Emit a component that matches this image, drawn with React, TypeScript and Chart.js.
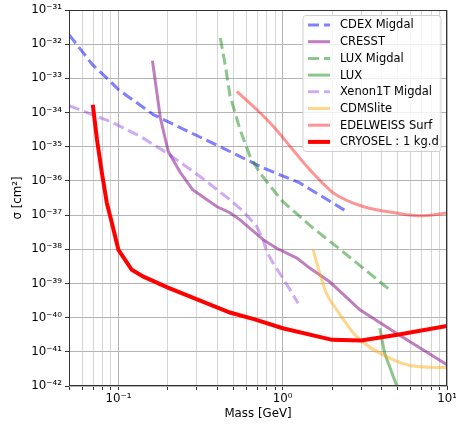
import React, { useEffect, useRef } from "react";
import { Chart, registerables } from "chart.js";
Chart.register(...registerables);

// Mass [GeV] and cross-section sigma [cm^2] for each curve
const cdexMass = [0.05, 0.0695, 0.087, 0.1, 0.163, 0.477, 0.76, 1.27, 2.44];
const cdexSigma = [1.91e-32, 2.51e-33, 9.12e-34, 4.68e-34, 8.71e-35, 7.24e-36, 2.4e-36, 8.71e-37, 1.29e-37];

const cresstMass = [0.161, 0.18, 0.201, 0.237, 0.283, 0.396, 0.477, 0.55, 0.76, 0.918, 1.22, 1.46, 1.94, 2.95, 4.92, 10];
const cresstSigma = [3.31e-33, 6.92e-35, 7.24e-36, 1.82e-36, 5.5e-37, 1.78e-37, 1.17e-37, 7.24e-38, 1.91e-38, 1.07e-38, 5.5e-39, 2.82e-39, 1.1e-39, 1.7e-40, 3.47e-41, 4.17e-42];

const luxMigdalMass = [0.417, 0.45, 0.477, 0.55, 0.632, 0.726, 0.875, 1.0, 1.27, 1.53, 2.23, 4.49];
const luxMigdalSigma = [1.51e-32, 2.0e-33, 3.16e-34, 3.16e-35, 5.25e-36, 1.7e-36, 5.5e-37, 2.51e-37, 9.12e-38, 4.17e-38, 1.0e-38, 6.46e-40];

const luxMass = [3.9, 4.17, 4.92, 5.1];
const luxSigma = [4.9e-41, 9.12e-42, 1.07e-42, 5.0e-43];

const xenonMass = [0.05, 0.089, 0.136, 0.2, 0.314, 0.477, 0.575, 0.694, 0.76, 0.797, 0.875, 1.0, 1.11, 1.24];
const xenonSigma = [1.58e-34, 5.5e-35, 2.0e-35, 6.31e-36, 1.35e-36, 2.82e-37, 1.29e-37, 4.68e-38, 1.91e-38, 8.71e-39, 3.89e-39, 1.45e-39, 6.46e-40, 2.63e-40];

const cdmsMass = [1.53, 1.68, 1.84, 2.13, 2.81, 4.28, 6.52, 10];
const cdmsSigma = [9.77e-39, 2.0e-39, 5.25e-40, 1.7e-40, 2.82e-41, 7.24e-42, 3.72e-42, 3.47e-42];

const edelMass = [0.525, 0.694, 0.875, 1.11, 1.46, 2.03, 3.08, 4.92, 6.82, 10];
const edelSigma = [4.17e-34, 1.23e-34, 3.98e-35, 1.02e-35, 2.14e-36, 4.47e-37, 1.78e-37, 1.15e-37, 9.55e-38, 1.15e-37];

const cryoselMass = [0.0698, 0.074, 0.0793, 0.085, 0.0912, 0.1, 0.1205, 0.142, 0.2, 0.477, 0.676, 1.0, 2.0, 3.0, 5.0, 10];
const cryoselSigma = [1.7e-34, 1.62e-35, 1.7e-36, 2.24e-37, 5.89e-38, 9.55e-39, 2.51e-39, 1.58e-39, 7.59e-40, 1.41e-40, 8.91e-41, 4.9e-41, 2.24e-41, 2.14e-41, 3.16e-41, 5.75e-41];

const xMin = 0.05;
const xMax = 10;
const yExpMin = -42;
const yExpMax = -31;

const FONT = '"DejaVu Sans"';
const GRID_MAJOR = "#b4b4b4";
const GRID_MINOR = "#d6d6d6";

const SUP: Record<string, string> = {
  "-": "\u207B", "0": "\u2070", "1": "\u00B9", "2": "\u00B2", "3": "\u00B3",
  "4": "\u2074", "5": "\u2075", "6": "\u2076", "7": "\u2077", "8": "\u2078", "9": "\u2079",
};

function isPow10(v: number) {
  const e = Math.log10(v);
  return Math.abs(e - Math.round(e)) < 1e-6;
}
function pow10Label(v: number) {
  if (!isPow10(v)) return "";
  const r = Math.round(Math.log10(v));
  return "10" + String(r).split("").map((c) => SUP[c]).join("");
}

const xTickValues: number[] = [];
for (let d = -2; d <= 1; d++) {
  for (let m = 1; m <= 9; m++) {
    const v = m * Math.pow(10, d);
    if (v >= xMin - 1e-12 && v <= xMax + 1e-9) xTickValues.push(v);
  }
}
const yTickValues: number[] = [];
for (let e = yExpMin; e <= yExpMax; e++) yTickValues.push(Number("1e" + e));

const series = [
  { label: "CDEX Migdal", x: cdexMass, y: cdexSigma, color: "rgba(0,0,255,0.5)", width: 3, dash: [11, 5] },
  { label: "CRESST", x: cresstMass, y: cresstSigma, color: "rgba(128,0,128,0.5)", width: 3, dash: [] },
  { label: "LUX Migdal", x: luxMigdalMass, y: luxMigdalSigma, color: "rgba(0,128,0,0.45)", width: 3, dash: [11, 5] },
  { label: "LUX", x: luxMass, y: luxSigma, color: "rgba(0,128,0,0.45)", width: 3, dash: [] },
  { label: "Xenon1T Migdal", x: xenonMass, y: xenonSigma, color: "rgba(138,43,226,0.4)", width: 3, dash: [11, 5] },
  { label: "CDMSlite", x: cdmsMass, y: cdmsSigma, color: "rgba(255,165,0,0.45)", width: 3, dash: [], smooth: true },
  { label: "EDELWEISS Surf", x: edelMass, y: edelSigma, color: "rgba(255,0,0,0.42)", width: 3, dash: [], smooth: true },
  { label: "CRYOSEL : 1 kg.d", x: cryoselMass, y: cryoselSigma, color: "rgb(255,0,0)", width: 4, dash: [] },
];

const framePlugin = {
  id: "frame",
  afterDatasetsDraw(chart: any) {
    const { ctx, chartArea: a } = chart;
    ctx.save();
    ctx.strokeStyle = "#333";
    ctx.lineWidth = 1;
    const l = Math.round(a.left) + 0.5;
    const t = Math.round(a.top) + 0.5;
    const r = Math.round(a.right) - 0.5;
    const b = Math.round(a.bottom) - 0.5;
    ctx.strokeRect(l, t, r - l, b - t);
    ctx.restore();
  },
};

const legendPlugin = {
  id: "boxLegend",
  afterDraw(chart: any) {
    const { ctx, chartArea: a } = chart;
    const ds = chart.data.datasets;
    const w = 138;
    const rowH = 16.7;
    const h = 136;
    const x0 = a.right - 6 - w;
    const y0 = a.top + 5.5;
    ctx.save();
    ctx.beginPath();
    const rr = 3;
    ctx.moveTo(x0 + rr, y0);
    ctx.lineTo(x0 + w - rr, y0);
    ctx.quadraticCurveTo(x0 + w, y0, x0 + w, y0 + rr);
    ctx.lineTo(x0 + w, y0 + h - rr);
    ctx.quadraticCurveTo(x0 + w, y0 + h, x0 + w - rr, y0 + h);
    ctx.lineTo(x0 + rr, y0 + h);
    ctx.quadraticCurveTo(x0, y0 + h, x0, y0 + h - rr);
    ctx.lineTo(x0, y0 + rr);
    ctx.quadraticCurveTo(x0, y0, x0 + rr, y0);
    ctx.closePath();
    ctx.fillStyle = "rgba(255,255,255,0.8)";
    ctx.fill();
    ctx.strokeStyle = "#d0d0d0";
    ctx.lineWidth = 1;
    ctx.stroke();
    ds.forEach((d: any, i: number) => {
      const cy = y0 + 9.5 + i * rowH;
      ctx.beginPath();
      ctx.setLineDash(d.borderDash || []);
      ctx.strokeStyle = d.borderColor;
      ctx.lineWidth = d.borderWidth;
      ctx.moveTo(x0 + 5, cy);
      ctx.lineTo(x0 + 27, cy);
      ctx.stroke();
      ctx.setLineDash([]);
      ctx.fillStyle = "#000";
      ctx.font = "11.5px " + FONT;
      ctx.textBaseline = "middle";
      ctx.textAlign = "left";
      ctx.fillText(d.label, x0 + 37, cy + 0.5);
    });
    ctx.restore();
  },
};

export default function App() {
  const ref = useRef<HTMLCanvasElement | null>(null);
  useEffect(() => {
    if (!ref.current) return;
    const n = series.length;
    const chart = new Chart(ref.current, {
      type: "line",
      data: {
        datasets: series.map((s, i) => ({
          label: s.label,
          data: s.x.map((x, j) => ({ x, y: s.y[j] })),
          borderColor: s.color,
          backgroundColor: s.color,
          borderWidth: s.width,
          borderDash: s.dash,
          pointRadius: 0,
          pointHoverRadius: 0,
          fill: false,
          tension: 0,
          cubicInterpolationMode: (s as any).smooth ? "monotone" : "default",
          clip: 0,
          order: n - 1 - i,
        })),
      },
      options: {
        animation: false,
        responsive: false,
        events: [],
        layout: { padding: { left: 11, right: 9, top: 10, bottom: 0 } },
        plugins: { legend: { display: false }, tooltip: { enabled: false } },
        scales: {
          x: {
            type: "logarithmic",
            min: xMin,
            max: xMax,
            afterBuildTicks: (scale: any) => {
              scale.ticks = xTickValues.map((v) => ({ value: v, major: isPow10(v) }));
            },
            afterFit: (scale: any) => {
              scale.height = 38;
              scale.paddingLeft = 0;
              scale.paddingRight = 0;
            },
            ticks: {
              autoSkip: false,
              maxRotation: 0,
              minRotation: 0,
              padding: 2,
              color: "#000",
              font: { family: FONT, size: 11.8 },
              callback: (v: any) => pow10Label(Number(v)),
            },
            grid: {
              color: (ctx: any) => (ctx.tick && ctx.tick.major ? GRID_MAJOR : GRID_MINOR),
              lineWidth: 1,
              tickLength: 4,
              tickColor: "#333",
            },
            border: { display: false },
            title: {
              display: true,
              text: "Mass [GeV]",
              color: "#000",
              font: { family: FONT, size: 11.8 },
              padding: { top: 0, bottom: 3 },
            },
          },
          y: {
            type: "logarithmic",
            min: yTickValues[0],
            max: yTickValues[yTickValues.length - 1],
            afterBuildTicks: (scale: any) => {
              scale.ticks = yTickValues.map((v) => ({ value: v, major: true }));
            },
            afterFit: (scale: any) => {
              scale.width = 58;
              scale.paddingTop = 0;
              scale.paddingBottom = 0;
            },
            ticks: {
              autoSkip: false,
              padding: 3,
              color: "#000",
              font: { family: FONT, size: 11.8 },
              callback: (v: any) => pow10Label(Number(v)),
            },
            grid: {
              color: GRID_MAJOR,
              lineWidth: 1,
              tickLength: 4,
              tickColor: "#333",
            },
            border: { display: false },
            title: {
              display: true,
              text: "\u03C3 [cm\u00B2]",
              color: "#000",
              font: { family: FONT, size: 11.8 },
              padding: { top: 0, bottom: 0 },
            },
          },
        },
      },
      plugins: [framePlugin, legendPlugin],
    } as any);
    return () => chart.destroy();
  }, []);
  return (
    <div style={{ position: "absolute", left: 0, top: 0, width: 456, height: 424, background: "#fff" }}>
      <canvas ref={ref} width={456} height={424} style={{ display: "block" }} />
    </div>
  );
}
